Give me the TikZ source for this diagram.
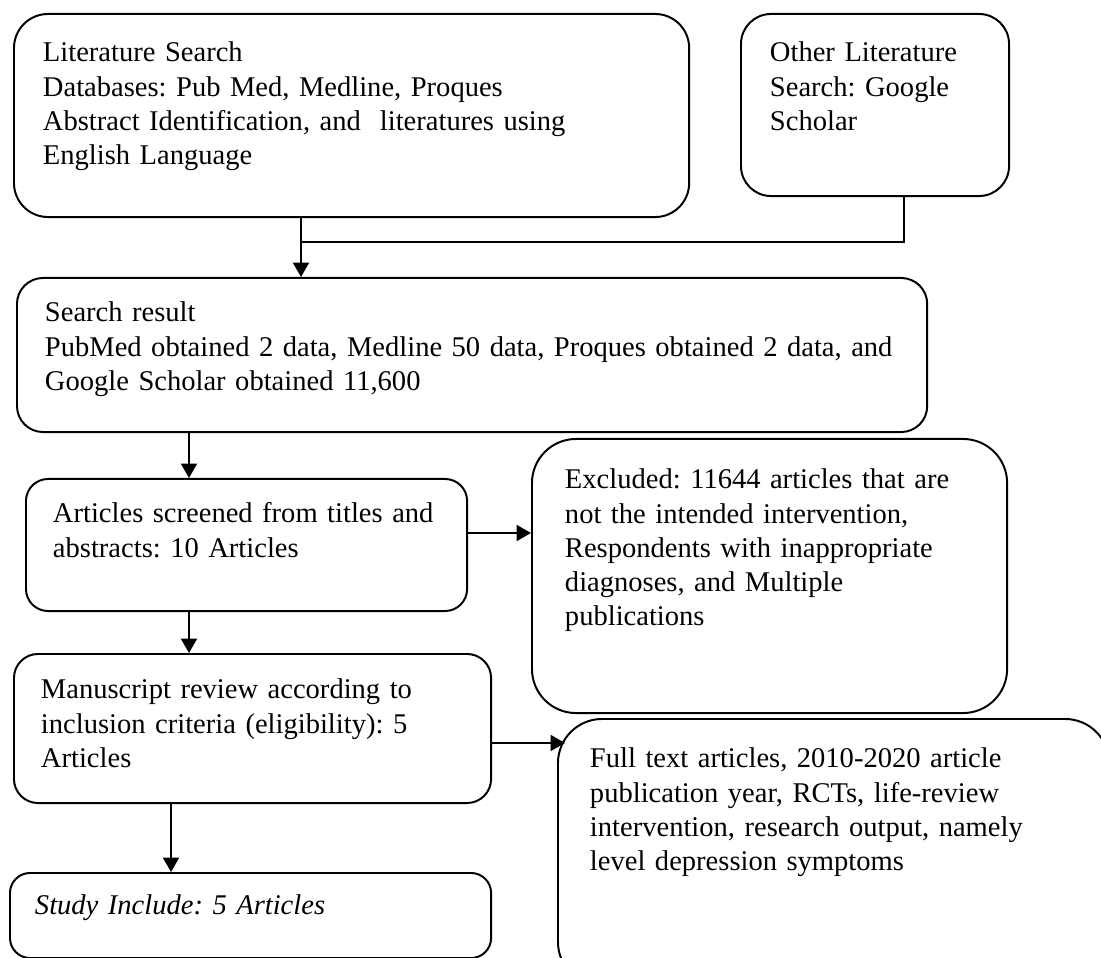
\documentclass[tikz,border=0pt]{standalone}
\usepackage{fontspec}
\setmainfont{Liberation Serif}
\usetikzlibrary{arrows.meta}
\begin{document}
\frenchspacing
\begin{tikzpicture}[x=0.025cm,y=-0.025cm,
  box/.style={draw, line width=1.4pt, anchor=north west, align=left, inner ysep=0pt,
    font=\fontsize{20.3}{24.2}\selectfont, execute at begin node=\frenchspacing},
  arr/.style={line width=1.4pt, -{Triangle[length=0.36cm,width=0.4cm]}},
  ln/.style={line width=0.9pt}]
\clip (0,0) rectangle (1101,958);
\node[box, rounded corners=0.85cm, inner xsep=0.725cm, text width=15.425cm, text height=1.2cm, text depth=3.875cm] (lit) at (13,13)
  {Literature Search\\Databases: Pub Med, Medline, Proques\\\mbox{Abstract Identification, and \ literatures using}\\English Language};
\node[box, rounded corners=0.75cm, inner xsep=0.725cm, text width=5.25cm, text height=1.2cm, text depth=3.35cm] (oth) at (740,13)
  {Other Literature\\Search: Google\\Scholar};
\node[box, rounded corners=0.65cm, inner xsep=0.7cm, text width=21.35cm, text height=1.1cm, text depth=2.75cm] (res) at (16,277)
  {Search result\\\mbox{PubMed obtained 2 data, Medline 50 data, Proques obtained 2 data, and}\\Google Scholar obtained 11,600};
\node[box, rounded corners=0.55cm, inner xsep=0.675cm, text width=9.675cm, text height=1.1cm, text depth=2.2cm] (scr) at (25,478)
  {\mbox{Articles screened from titles and}\\abstracts: 10 Articles};
\node[box, rounded corners=1.1cm, inner xsep=0.825cm, text width=10.225cm, text height=1.25cm, text depth=5.6cm] (exc) at (531,438)
  {Excluded: 11644 articles that are\\not the intended intervention,\\Respondents with inappropriate\\diagnoses, and Multiple\\publications};
\node[box, rounded corners=0.6cm, inner xsep=0.675cm, text width=10.575cm, text height=1.125cm, text depth=2.6cm] (man) at (13,653)
  {\mbox{Manuscript review according to}\\\mbox{inclusion criteria (eligibility): 5}\\Articles};
\node[box, rounded corners=1.1cm, inner xsep=0.8cm, text width=12.175cm, text height=1.225cm, text depth=5.45cm] (ful) at (557,718)
  {\mbox{Full text articles, 2010-2020 article}\\\mbox{publication year, RCTs, life-review}\\\mbox{intervention, research output, namely}\\level depression symptoms};
\node[box, rounded corners=0.5cm, inner xsep=0.625cm, text width=10.775cm, text height=1.05cm, text depth=1.075cm] (inc) at (9,872)
  {\textit{Study Include: 5 Articles}};
% connector coordinates
\coordinate (c1) at (301,0);
\coordinate (c2) at (904,0);
\coordinate (j) at (301,242);
\coordinate (c3) at (189,0);
\coordinate (c4) at (171,0);
\coordinate (r1) at (0,533);
\coordinate (r2) at (0,743);
\coordinate (t7) at (565,743);
\draw[arr] (lit.south -| c1) -- (res.north -| c1);
\draw[ln] (oth.south -| c2) |- (j);
\draw[arr] (res.south -| c3) -- (scr.north -| c3);
\draw[arr] (scr.east |- r1) -- (exc.west |- r1);
\draw[arr] (scr.south -| c3) -- (man.north -| c3);
\draw[arr] (man.east |- r2) -- (t7);
\draw[arr] (man.south -| c4) -- (inc.north -| c4);
\end{tikzpicture}
\end{document}
